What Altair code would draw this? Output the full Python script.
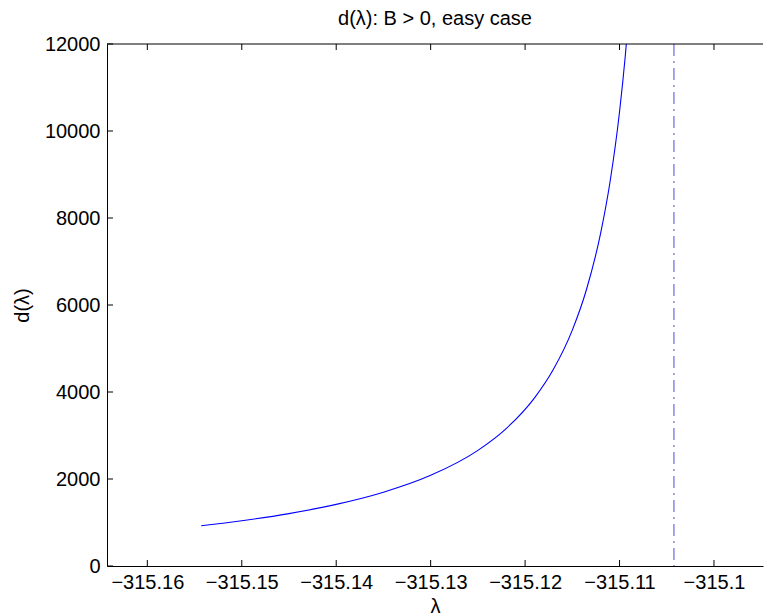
import altair as alt
import pandas as pd

# values
lam = [-315.1543, -315.150, -315.145, -315.140, -315.135, -315.130, -315.125,
       -315.122, -315.119, -315.117, -315.115, -315.1135, -315.112, -315.111,
       -315.110, -315.1094, -315.1091]
dval = [926, 1041, 1205, 1416, 1696, 2084, 2659, 3160, 3866, 4522, 5423, 6356,
        7653, 8840, 10443, 11707, 12457]
pole = [-315.10424]
x_ticks = [-315.16, -315.15, -315.14, -315.13, -315.12, -315.11, -315.10]
y_ticks = [0, 2000, 4000, 6000, 8000, 10000, 12000]
x_domain = [-315.16427, -315.09481]
y_domain = [0, 12000]

W, H = 656, 522
FONT = "Liberation Sans"

xs = alt.Scale(domain=x_domain, nice=False, zero=False)
ys = alt.Scale(domain=y_domain, nice=False, zero=False)

X = alt.X("lam:Q", scale=xs, title="λ",
          axis=alt.Axis(values=x_ticks, format=".2~f", labelPadding=6,
                        titlePadding=4, labelFlush=False, labelOverlap=False))
Y = alt.Y("d:Q", scale=ys, title="d(λ)",
          axis=alt.Axis(values=y_ticks, format="d", labelPadding=7, titlePadding=12,
                        labelFlush=False, labelOverlap=False))

curve = alt.Chart(pd.DataFrame({"lam": lam, "d": dval})).mark_line(
    color="#0000ff", strokeWidth=1.1, interpolate="monotone", clip=True
).encode(x=X, y=Y)

pole_line = alt.Chart(pd.DataFrame({"lam": pole})).mark_rule(
    color="#5c5ce0", strokeWidth=1.1, strokeDash=[12, 5, 2, 5]
).encode(x=X)

xt = pd.DataFrame({"lam": x_ticks})
yt = pd.DataFrame({"d": y_ticks})

bottom_ticks = alt.Chart(xt).mark_rule(color="black", strokeWidth=1).encode(
    x=X, y=alt.value(H), y2=alt.value(H - 6))
top_ticks = alt.Chart(xt).mark_rule(color="black", strokeWidth=1).encode(
    x=X, y=alt.value(0), y2=alt.value(6))
left_ticks = alt.Chart(yt).mark_rule(color="black", strokeWidth=1).encode(
    y=Y, x=alt.value(0), x2=alt.value(6))
top_border = alt.Chart(pd.DataFrame({"lam": [x_ticks[0]]})).mark_rule(
    color="black", strokeWidth=1).encode(
    x=alt.value(0), x2=alt.value(W), y=alt.value(0))

chart = alt.layer(
    curve, pole_line, bottom_ticks, top_ticks, left_ticks, top_border
).properties(
    width=W, height=H,
    title=alt.TitleParams("d(λ): B > 0, easy case", font=FONT, fontSize=20,
                          fontWeight="normal", color="black", anchor="middle",
                          baseline="alphabetic", offset=17, dy=28),
    padding={"left": 107, "top": 44, "right": 1, "bottom": 47},
    autosize=alt.AutoSizeParams(type="none"),
    background="white",
).configure_view(stroke=None).configure_axis(
    labelFont=FONT, labelFontSize=20, labelColor="black",
    titleFont=FONT, titleFontSize=20, titleFontWeight="normal", titleColor="black",
    domainColor="black", domainWidth=1, ticks=False, tickSize=0, grid=False,
)

chart.save("out.html", embed_options={"renderer": "svg", "actions": False})
